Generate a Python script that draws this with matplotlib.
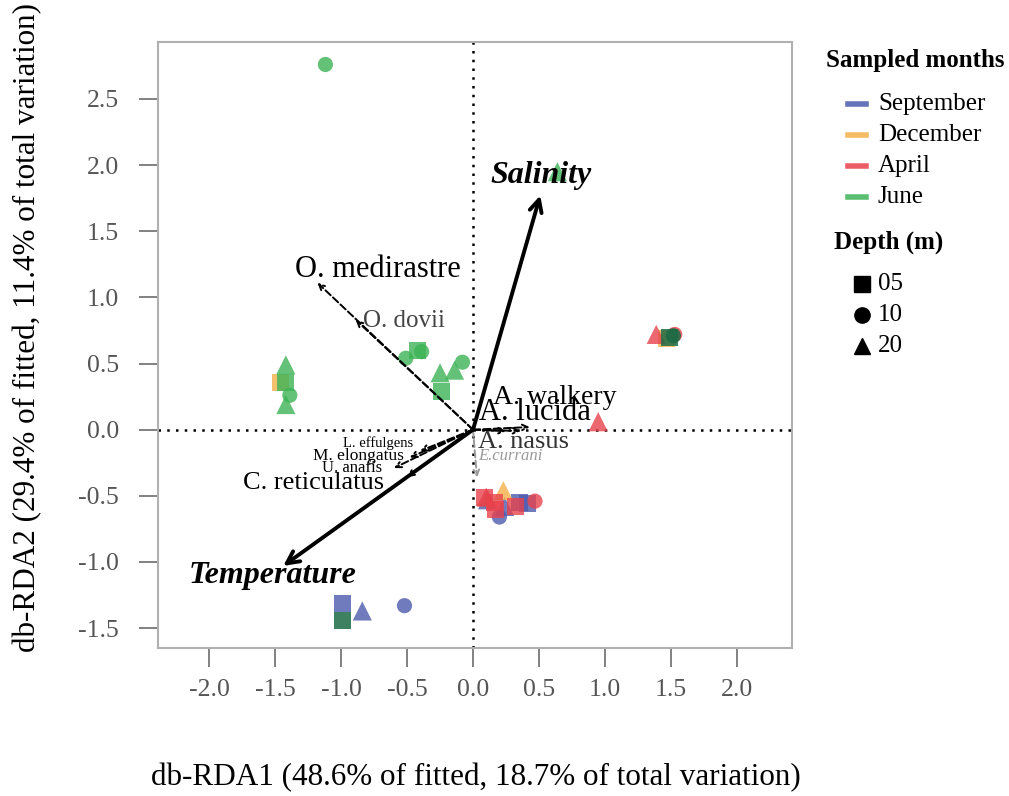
import matplotlib
matplotlib.use('Agg')
import matplotlib.pyplot as plt
from matplotlib.lines import Line2D

# ======================
# DATA
# ======================

months = ['September', 'December', 'April', 'June']
month_colors = {'September': '#4c5aad', 'December': '#f4b04a',
                'April': '#e8424c', 'June': '#3cb356'}
depths = ['05', '10', '20']
depth_markers = {'05': 's', '10': 'o', '20': '^'}
depth_sizes = {'05': 150, '10': 120, '20': 190}

# samples: month, depth, db-RDA1, db-RDA2
sample_month = (['September'] * 8 + ['December'] * 3 + ['April'] * 9 + ['June'] * 13)
sample_depth = ['05', '20', '10', '20', '20', '10', '05', '05',
                '05', '20', '05',
                '20', '20', '10', '05', '20', '05', '05', '05', '10',
                '10', '20', '20', '05', '10', '20', '10', '05', '10', '20', '20', '10', '05']
sample_x = [-0.99, -0.84, -0.52, 0.11, 0.24, 0.20, 0.35, 0.41,
            -1.46, 0.23, 1.47,
            0.95, 1.39, 1.53, 0.09, 0.10, 0.16, 0.17, 0.32, 0.47,
            -1.12, 0.64, -1.42, -1.42, -1.39, -1.42, -0.51, -0.42, -0.39, -0.25, -0.14, -0.08, -0.24]
sample_y = [-1.31, -1.37, -1.33, -0.53, -0.58, -0.66, -0.55, -0.56,
            0.36, -0.46, 0.69,
            0.06, 0.72, 0.72, -0.51, -0.51, -0.55, -0.60, -0.58, -0.54,
            2.76, 1.95, 0.49, 0.36, 0.26, 0.19, 0.54, 0.60, 0.59, 0.43, 0.45, 0.51, 0.29]

# overlapping samples that show as dark green
dark_x = [-0.99, 1.49, 1.52]
dark_y = [-1.44, 0.70, 0.71]
dark_depth = ['05', '05', '10']

# environmental vectors
env_names = ['Salinity', 'Temperature']
env_x = [0.51, -1.44]
env_y = [1.77, -1.03]
env_lab_x = [0.515, -1.52]
env_lab_y = [1.92, -1.10]

# species vectors
sp_names = ['O. medirastre', 'O. dovii', 'A. walkery', 'A. lucida', 'A. nasus',
            'E.currani', 'C. reticulatus', 'M. elongatus', 'L. effulgens', 'U. anafis']
sp_x = [-1.18, -0.89, 0.43, 0.36, 0.25, 0.03, -0.50, -0.48, -0.40, -0.60]
sp_y = [1.11, 0.83, 0.02, -0.01, -0.01, -0.36, -0.358, -0.21, -0.16, -0.29]
sp_lab_x = [-0.72, -0.52, 0.62, 0.47, 0.38, 0.28, -1.21, -0.87, -0.72, -0.92]
sp_lab_y = [1.21, 0.82, 0.24, 0.13, -0.09, -0.20, -0.40, -0.20, -0.10, -0.29]
sp_size = [22, 18, 20, 22, 19, 12, 19, 12.5, 10.5, 12]
sp_color = ['black', '#444444', 'black', 'black', '#333333', '#999999',
            'black', 'black', 'black', 'black']

xticks = [-2.0, -1.5, -1.0, -0.5, 0.0, 0.5, 1.0, 1.5, 2.0]
yticks = [-1.5, -1.0, -0.5, 0.0, 0.5, 1.0, 1.5, 2.0, 2.5]

# ======================
# PLOT
# ======================

plt.rcParams['font.family'] = ['Liberation Serif', 'DejaVu Serif']

W, H = 1009, 796
fig = plt.figure(figsize=(W / 100, H / 100), dpi=100)


def fx(px):
    return px / W


def fy(py):
    return 1 - py / H


ax = fig.add_axes([fx(158), fy(648), (792 - 158) / W, (648 - 42) / H])
ax.set_xlim(-2.39, 2.42)
ax.set_ylim(-1.65, 2.93)

for s in ax.spines.values():
    s.set_color('#b0b0b0')
    s.set_linewidth(1.5)

ax.set_xticks(xticks)
ax.set_yticks(yticks)
ax.set_xticklabels(['%.1f' % v for v in xticks])
ax.set_yticklabels(['%.1f' % v for v in yticks])
ax.tick_params(axis='both', direction='out', length=14, width=1.3,
               colors='#777777', labelsize=18.5, labelcolor='#555555')
ax.tick_params(axis='x', pad=8)
ax.tick_params(axis='y', pad=14)

ax.axhline(0, color='black', lw=1.8, ls=(0, (1, 2.5)), zorder=1)
ax.axvline(0, color='black', lw=1.8, ls=(0, (1, 2.5)), zorder=1)

# samples
for m, d, x, y in zip(sample_month, sample_depth, sample_x, sample_y):
    ax.scatter(x, y, marker=depth_markers[d], s=depth_sizes[d], c=month_colors[m],
               alpha=0.8, edgecolors='none', zorder=3)
for d, x, y in zip(dark_depth, dark_x, dark_y):
    ax.scatter(x, y, marker=depth_markers[d], s=depth_sizes[d], c='#1c6b45',
               alpha=0.85, edgecolors='none', zorder=3)

# species arrows
for name, x, y, lx, ly, fs, col in zip(sp_names, sp_x, sp_y, sp_lab_x, sp_lab_y, sp_size, sp_color):
    acol = '#999999' if col == '#999999' else 'black'
    ax.annotate('', xy=(x, y), xytext=(0, 0),
                arrowprops=dict(arrowstyle='->', color=acol, lw=1.4, ls='--',
                                mutation_scale=10, shrinkA=0, shrinkB=0), zorder=4)
    style = 'italic' if name == 'E.currani' else 'normal'
    ax.text(lx, ly, name, fontsize=fs, color=col, ha='center', va='center',
            style=style, zorder=5)

# environmental arrows
for name, x, y, lx, ly in zip(env_names, env_x, env_y, env_lab_x, env_lab_y):
    ax.annotate('', xy=(x, y), xytext=(0, 0),
                arrowprops=dict(arrowstyle='->', color='black', lw=2.8,
                                mutation_scale=22, shrinkA=0, shrinkB=0), zorder=6)
    ax.text(lx, ly, name, fontsize=23, fontweight='bold', style='italic',
            ha='center', va='center', zorder=7)

# axis titles
fig.text(fx(476), fy(778), 'db-RDA1 (48.6% of fitted, 18.7% of total variation)',
         fontsize=22.4, ha='center', va='center')
fig.text(fx(28), fy(328), 'db-RDA2 (29.4% of fitted, 11.4% of total variation)',
         fontsize=22.4, ha='center', va='center', rotation=90)

# legends
fig.text(fx(915), fy(60), 'Sampled months', fontsize=18, fontweight='bold',
         ha='center', va='center')
for i, m in enumerate(months):
    yy = 104 + 31 * i
    fig.add_artist(Line2D([fx(848), fx(866)], [fy(yy), fy(yy)], color=month_colors[m],
                          lw=4, alpha=0.85, transform=fig.transFigure))
    fig.text(fx(878), fy(yy), m, fontsize=18, ha='left', va='center')

fig.text(fx(889), fy(242), 'Depth (m)', fontsize=18, fontweight='bold',
         ha='center', va='center')
for i, d in enumerate(depths):
    yy = 284 + 31 * i
    fig.add_artist(Line2D([fx(862)], [fy(yy)], marker=depth_markers[d], ms=12 if d != '10' else 11,
                          color='black', ls='none', transform=fig.transFigure))
    fig.text(fx(878), fy(yy), d, fontsize=18, ha='left', va='center')

fig.savefig('out.png', dpi=100)
